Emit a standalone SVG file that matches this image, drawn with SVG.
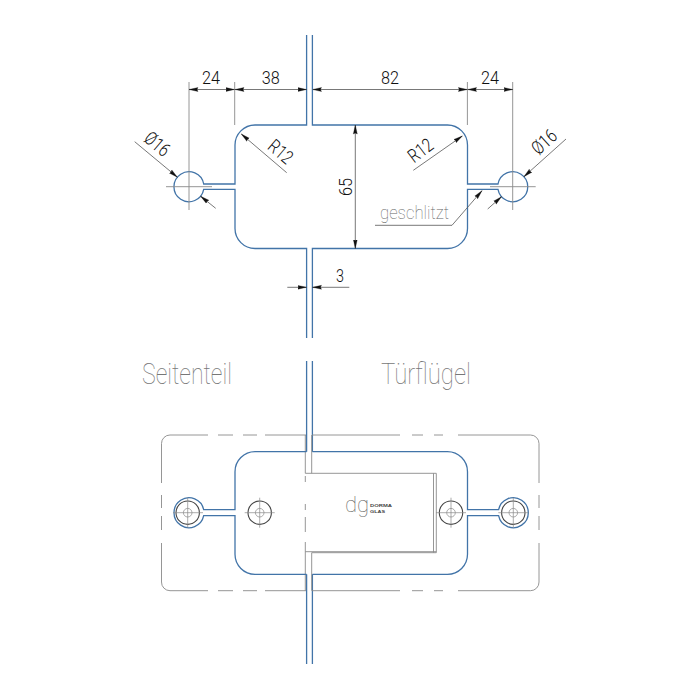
<svg xmlns="http://www.w3.org/2000/svg" width="700" height="700" viewBox="0 0 700 700">
<style>
.b{fill:none;stroke:#4274a8;stroke-width:1.3}
.g{fill:none;stroke:#8a8a8a;stroke-width:.9}
.d{fill:none;stroke:#555;stroke-width:.8}
.k{fill:none;stroke:#444;stroke-width:1.1}
.c{fill:none;stroke:#888;stroke-width:.7}
.a{marker-start:url(#as);marker-end:url(#ae)}
.e{marker-end:url(#ae)}
.t{font-family:"Roboto","Liberation Sans",sans-serif;font-weight:300;font-size:19px;fill:#111;text-anchor:middle}
.l{font-family:"Roboto","Liberation Sans",sans-serif;font-weight:100;fill:#777;font-size:29px}
</style>
<defs>
<marker id="ae" markerUnits="userSpaceOnUse" markerWidth="10" markerHeight="6" refX="9" refY="3" orient="auto"><path d="M0 1L9 3L0 5L1 3Z" fill="#111" stroke="#111" stroke-width=".3"/></marker>
<marker id="as" markerUnits="userSpaceOnUse" markerWidth="10" markerHeight="6" refX="0" refY="3" orient="auto"><path d="M9 1L0 3L9 5L8 3Z" fill="#111" stroke="#111" stroke-width=".3"/></marker>
</defs>
<g id="top-plate">
<path class="b" d="M306.600 35V125H255A20 20 0 0 0 235 145V184H203.700A15 15 0 1 0 203.700 189.400H235V228.500A20 20 0 0 0 255 248.500H306.600V338"/>
<path class="b" d="M312.400 35V125H447.500A20 20 0 0 1 467.500 145V184H498A15 15 0 1 1 498 189.400H467.500V228.500A20 20 0 0 1 447.500 248.500H312.400V338"/>
</g>
<g id="dimensions">
<path class="g" d="M189 82V210M234.700 82V125M467.400 82V125M512.700 82V210M166 186.700H212M490 186.700H535.700"/>
<path class="d a" d="M189 89.500H234.500"/>
<path class="d a" d="M235 89.500H306.500"/>
<path class="d a" d="M312.500 89.500H467.300"/>
<path class="d a" d="M467.600 89.500H512.700"/>
<path class="d a" d="M355.300 125V248.500"/>
<path class="d e" d="M134.700 141.700L177.400 177.200"/>
<path class="d e" d="M215.700 208.300L200.600 196.200"/>
<path class="d e" d="M566 139L523.900 176.700"/>
<path class="d e" d="M487.700 209L501.500 196.700"/>
<path class="d e" d="M286.700 172.700L241.300 134"/>
<path class="d e" d="M413.300 170.300L462.300 136"/>
<path class="d e" d="M287.300 287.300H306.500"/>
<path class="d e" d="M349.300 287.300H312.500"/>
<path class="d" d="M375 225.300H452"/>
<path class="d e" d="M452 225.300L482 190.700"/>
<text class="t" x="211" y="84" textLength="18" lengthAdjust="spacingAndGlyphs">24</text>
<text class="t" x="270.700" y="84" textLength="18" lengthAdjust="spacingAndGlyphs">38</text>
<text class="t" x="390" y="84" textLength="18" lengthAdjust="spacingAndGlyphs">82</text>
<text class="t" x="490" y="84" textLength="18" lengthAdjust="spacingAndGlyphs">24</text>
<text class="t" x="340" y="282" textLength="8" lengthAdjust="spacingAndGlyphs">3</text>
<text class="t" transform="translate(351.500 187) rotate(-90)" textLength="18" lengthAdjust="spacingAndGlyphs">65</text>
<text class="t" transform="translate(153 149) rotate(40)" textLength="27" lengthAdjust="spacingAndGlyphs">Ø16</text>
<text class="t" transform="translate(276.500 156.700) rotate(40)" textLength="26" lengthAdjust="spacingAndGlyphs">R12</text>
<text class="t" transform="translate(424.500 155.700) rotate(-37)" textLength="26" lengthAdjust="spacingAndGlyphs">R12</text>
<text class="t" transform="translate(548.500 146.700) rotate(-42)" textLength="27" lengthAdjust="spacingAndGlyphs">Ø16</text>
<text x="380" y="219" font-family="Roboto,'Liberation Sans',sans-serif" font-weight="100" font-size="18" fill="#666" textLength="69" lengthAdjust="spacingAndGlyphs">geschlitzt</text>
</g>
<g id="labels">
<text class="l" x="142" y="384" textLength="90" lengthAdjust="spacingAndGlyphs">Seitenteil</text>
<text class="l" x="381" y="384" textLength="90" lengthAdjust="spacingAndGlyphs">Türflügel</text>
</g>
<g id="glass">
<path class="b" d="M306.600 361V451.700M312.400 361V451.700M306.600 574.300V664M312.400 574.300V664"/>
</g>
<g id="cover-outline">
<path class="g" d="M208 435H170A8.500 8.500 0 0 0 161.500 443.500V483M161.500 495V508M161.500 516V530M161.500 543V582A8.500 8.500 0 0 0 170 590.700H208M218 435H233M243 435H257M265 435H306M218 590.700H233M243 590.700H257M265 590.700H306M400 435H312M412 435H423M434 435H443M458 435H530.500A8.500 8.500 0 0 1 539 443.500V483M539 495V508M539 516V530M539 543V582A8.500 8.500 0 0 1 530.500 590.700H458M434 590.700H443M412 590.700H423M400 590.700H312"/>
<path class="g" d="M305.300 435V473.300M305.300 476V482M305.300 504V510M305.300 517V532M305.300 542V590.700M305.300 473.300H436.300V552.700H311.700V590.700M311.700 435V473.300M305.300 551.700H436.300M433.500 473.300V552.700"/>
</g>
<g id="bottom-plate">
<path class="b" d="M306.600 451.700H255A20 20 0 0 0 235 471.700V509.700H203.700A15 15 0 1 0 203.700 515.700H235V554.300A20 20 0 0 0 255 574.300H306.600"/>
<path class="b" d="M312.400 451.700H447.500A20 20 0 0 1 467.500 471.700V509.700H498.600A15 15 0 1 1 498.600 515.700H467.500V554.300A20 20 0 0 1 447.500 574.300H312.400"/>
</g>
<g id="screw-1"><circle class="k" cx="187.700" cy="512.700" r="11.700"/><circle class="c" cx="187.700" cy="512.700" r="4.300"/><path class="c" d="M173 512.700H203M187.700 497.700V527.700"/></g>
<g id="screw-2"><circle class="k" cx="259.700" cy="512.700" r="11.700"/><circle class="c" cx="259.700" cy="512.700" r="4.300"/><path class="c" d="M244.700 512.700H274.700M259.700 497.700V527.700"/></g>
<g id="screw-3"><circle class="k" cx="451" cy="512.700" r="11.700"/><circle class="c" cx="451" cy="512.700" r="4.300"/><path class="c" d="M436 512.700H466M451 497.700V527.700"/></g>
<g id="screw-4"><circle class="k" cx="513.300" cy="512.700" r="11.700"/><circle class="c" cx="513.300" cy="512.700" r="4.300"/><path class="c" d="M498.300 512.700H528.300M513.300 497.700V527.700"/></g>
<g id="logo">
<text x="345" y="512" font-family="Roboto,sans-serif" font-weight="100" font-size="22" fill="#666">dg</text>
<text x="370" y="507" font-family="'Liberation Sans',sans-serif" font-weight="700" font-size="4.400" fill="#444" textLength="22" lengthAdjust="spacingAndGlyphs">DORMA</text>
<text x="370" y="513" font-family="'Liberation Sans',sans-serif" font-weight="700" font-size="4.400" fill="#444" textLength="15" lengthAdjust="spacingAndGlyphs">GLAS</text>
</g>
</svg>
